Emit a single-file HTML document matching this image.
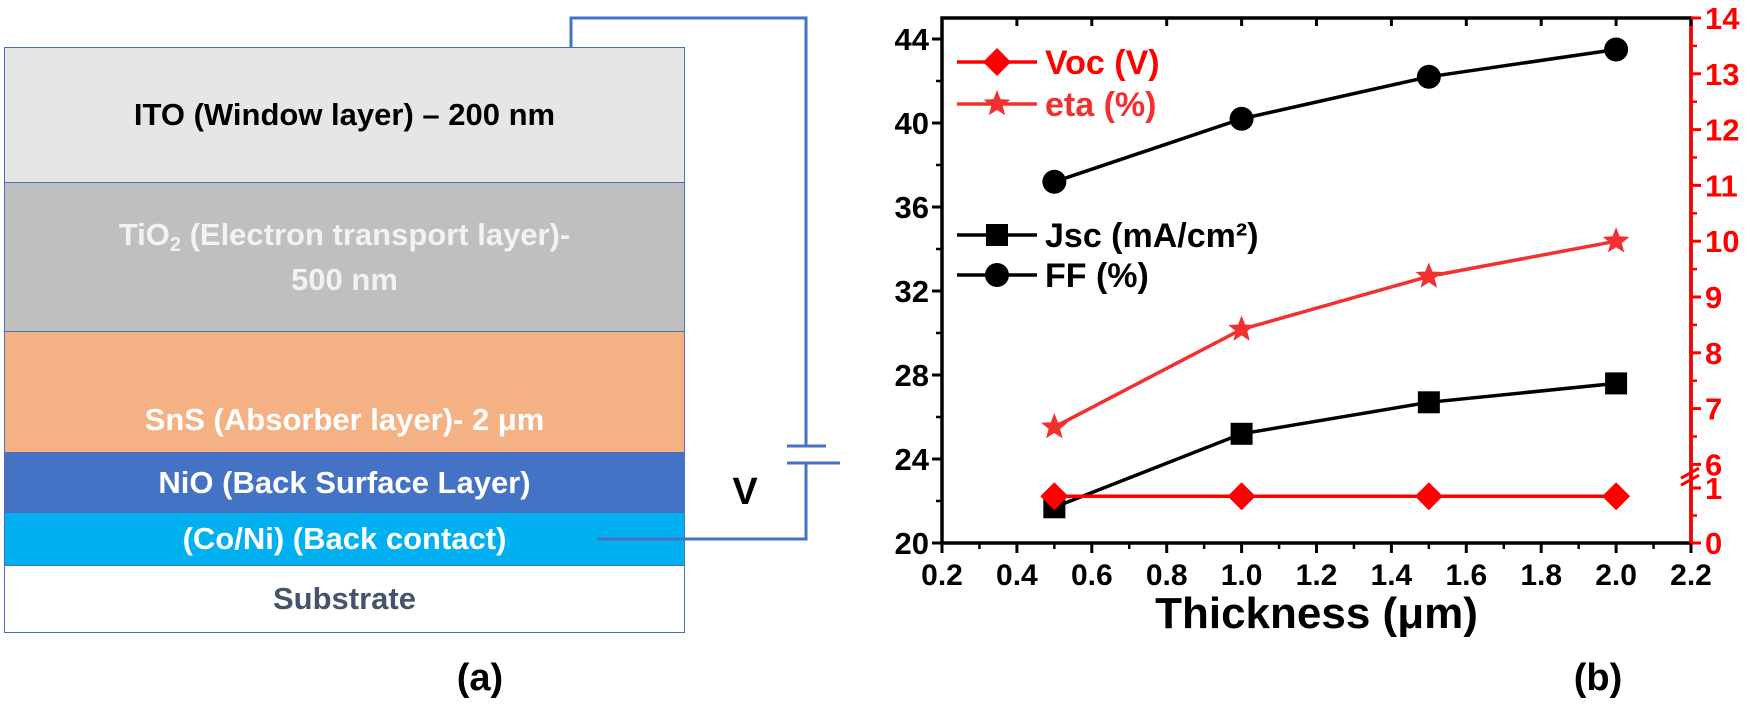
<!DOCTYPE html>
<html><head><meta charset="utf-8"><style>
body{margin:0;background:#fff;}
#root{position:relative;width:1750px;height:704px;overflow:hidden;font-family:"Liberation Sans",sans-serif;}
.layer{position:absolute;left:4px;width:681px;display:flex;align-items:center;justify-content:center;font-weight:bold;font-size:31px;box-sizing:border-box;border:1.5px solid #4a6fb5;text-align:center;}
</style></head><body>
<div id="root">
<div class="layer" style="top:47px;height:136px;background:#e6e6e6;color:#000;"><span>ITO (Window layer) – 200 nm</span></div>
<div class="layer" style="top:182px;height:150px;background:#bfbfbf;color:#f2f2f2;line-height:1.35;"><span>TiO<sub style="font-size:20px;vertical-align:-6px">2</sub> (Electron transport layer)-<br>500 nm</span></div>
<div class="layer" style="top:331px;height:122px;background:#f4b183;color:#fff;align-items:flex-end;padding-bottom:14px;"><span>SnS (Absorber layer)- 2 μm</span></div>
<div class="layer" style="top:452px;height:61px;background:#4472c4;color:#fff;"><span>NiO (Back Surface Layer)</span></div>
<div class="layer" style="top:512px;height:54px;background:#00b0f0;color:#fff;"><span>(Co/Ni) (Back contact)</span></div>
<div class="layer" style="top:565px;height:68px;background:#fff;color:#44546a;"><span>Substrate</span></div>
<svg width="1750" height="704" style="position:absolute;left:0;top:0">
<polyline points="571,47 571,18 806,18 806,446" fill="none" stroke="#4472c4" stroke-width="3"/>
<polyline points="806,463 806,539 597,539" fill="none" stroke="#4472c4" stroke-width="3"/>
<line x1="787" y1="446" x2="826" y2="446" stroke="#4472c4" stroke-width="3"/>
<line x1="787" y1="463" x2="840" y2="463" stroke="#4472c4" stroke-width="3"/>
<text x="745" y="504" font-size="38" font-weight="bold" font-family="Liberation Sans,sans-serif" text-anchor="middle">V</text>
<text x="480" y="690" font-size="38" font-weight="bold" font-family="Liberation Sans,sans-serif" text-anchor="middle">(a)</text>
<text x="1598" y="690" font-size="38" font-weight="bold" font-family="Liberation Sans,sans-serif" text-anchor="middle">(b)</text>
</svg>
<svg id="chart" width="1750" height="704" style="position:absolute;left:0;top:0"></svg>
</div>
<script>
const thickness=[0.5,1.0,1.5,2.0];
const jsc=[21.7,25.2,26.7,27.6];
const ff=[37.2,40.2,42.2,43.5];
const eta=[6.67,8.42,9.37,10.0];
const voc=[0.85,0.85,0.85,0.85];
const xTicks=[0.2,0.4,0.6,0.8,1.0,1.2,1.4,1.6,1.8,2.0,2.2];
const yTicks=[20,24,28,32,36,40,44];
const y2TicksUpper=[6,7,8,9,10,11,12,13,14];
const y2TicksLower=[0,1];
const L=942,R=1691,T=18,B=543;
const X=v=>L+(v-0.2)/2.0*(R-L);
const Y=v=>B-(v-20)/25*(B-T);
const Y2=v=>v>=6?T+(14-v)*55.8:B-v*55;
const svg=document.getElementById('chart');const NS='http://www.w3.org/2000/svg';
function mk(tag,attrs,name,parent){const e=document.createElementNS(NS,tag);for(const k in attrs)e.setAttribute(k,attrs[k]);


(parent||svg).appendChild(e);return e;}
const F='Liberation Sans,sans-serif';
mk('rect',{x:L,y:T,width:R-L,height:B-T,fill:'none',stroke:'#000','stroke-width':3.5},'plot-frame');
mk('line',{x1:R,y1:T+8,x2:R,y2:B+2,stroke:'#f00','stroke-width':3.5},'right-axis-line');
xTicks.forEach((t,i)=>{const x=X(t);mk('line',{x1:x,y1:B,x2:x,y2:B+10,stroke:'#000','stroke-width':3},'x-tick');
mk('line',{x1:x,y1:T,x2:x,y2:T+8,stroke:'#000','stroke-width':3},'x-top-tick');
if(i<xTicks.length-1){const xm=X(t+0.1);mk('line',{x1:xm,y1:B,x2:xm,y2:B+6,stroke:'#000','stroke-width':2.5},'x-minor-tick');}
const tx=mk('text',{x:x,y:B+42,'font-size':30,'font-weight':'bold','font-family':F,'text-anchor':'middle'},'x-tick-label');tx.textContent=t.toFixed(1);});
yTicks.forEach((t,i)=>{const y=Y(t);mk('line',{x1:L,y1:y,x2:L-10,y2:y,stroke:'#000','stroke-width':3},'y-tick');
if(i<yTicks.length-1){const ym=Y(t+2);mk('line',{x1:L,y1:ym,x2:L-6,y2:ym,stroke:'#000','stroke-width':2.5},'y-minor-tick');}
const tx=mk('text',{x:L-13,y:y+11,'font-size':31,'font-weight':'bold','font-family':F,'text-anchor':'end'},'y-tick-label');tx.textContent=t;});
y2TicksUpper.concat(y2TicksLower).forEach(t=>{const y=Y2(t);mk('line',{x1:R,y1:y,x2:R+10,y2:y,stroke:'#f00','stroke-width':3},'y2-tick');
const tx=mk('text',{x:R+14,y:y+11,'font-size':31,'font-weight':'bold','font-family':F,fill:'#f00'},'y2-tick-label');tx.textContent=t;});
y2TicksUpper.slice(0,-1).forEach(t=>{const y=Y2(t+0.5);mk('line',{x1:R,y1:y,x2:R+6,y2:y,stroke:'#f00','stroke-width':2.5},'y2-minor-tick');});
mk('line',{x1:R,y1:Y2(0.5),x2:R+6,y2:Y2(0.5),stroke:'#f00','stroke-width':2.5},'y2-minor-tick');
const yb=(Y2(6)+Y2(1))/2;
mk('path',{d:`M${R-10},${yb+2} L${R+8},${yb-8} M${R-10},${yb+9} L${R+8},${yb-1}`,stroke:'#f00','stroke-width':3,fill:'none'},'axis-break');
const xl=mk('text',{x:(L+R)/2,y:628,'font-size':44,'font-weight':'bold','font-family':F,'text-anchor':'middle'},'x-axis-title');xl.textContent='Thickness (μm)';
function marker(kind,x,y,col,name){
if(kind==='sq')mk('rect',{x:x-11,y:y-11,width:22,height:22,fill:col},name);
else if(kind==='ci')mk('circle',{cx:x,cy:y,r:12,fill:col},name);
else if(kind==='di')mk('polygon',{points:`${x},${y-14} ${x+14},${y} ${x},${y+14} ${x-14},${y}`,fill:col},name);
else{let p=[];for(let i=0;i<10;i++){const r=i%2?6:14,a=-Math.PI/2+i*Math.PI/5;p.push((x+r*Math.cos(a)).toFixed(1)+','+(y+r*Math.sin(a)).toFixed(1));}mk('polygon',{points:p.join(' '),fill:col},name);}}
function series(vals,yf,col,kind,name){
mk('polyline',{points:thickness.map((t,i)=>X(t)+','+yf(vals[i])).join(' '),fill:'none',stroke:col,'stroke-width':3.5},name+'-line');
thickness.forEach((t,i)=>marker(kind,X(t),yf(vals[i]),col,name+'-point'));}
series(ff,Y,'#000','ci','ff');
series(jsc,Y,'#000','sq','jsc');
series(eta,Y2,'#f23030','st','eta');
series(voc,Y2,'#f00','di','voc');
const leg=[['Voc (V)','#f00','di',62],['eta (%)','#f23030','st',104],['Jsc (mA/cm²)','#000','sq',235],['FF (%)','#000','ci',275]];
leg.forEach(([lab,col,kind,y])=>{mk('line',{x1:957,y1:y,x2:1037,y2:y,stroke:col,'stroke-width':3.5},'legend-line');marker(kind,997,y,col,'legend-marker');
const t=mk('text',{x:1045,y:y+12,'font-size':34,'font-weight':'bold','font-family':F,fill:col},'legend-label');t.textContent=lab;});
</script>
</body></html>
